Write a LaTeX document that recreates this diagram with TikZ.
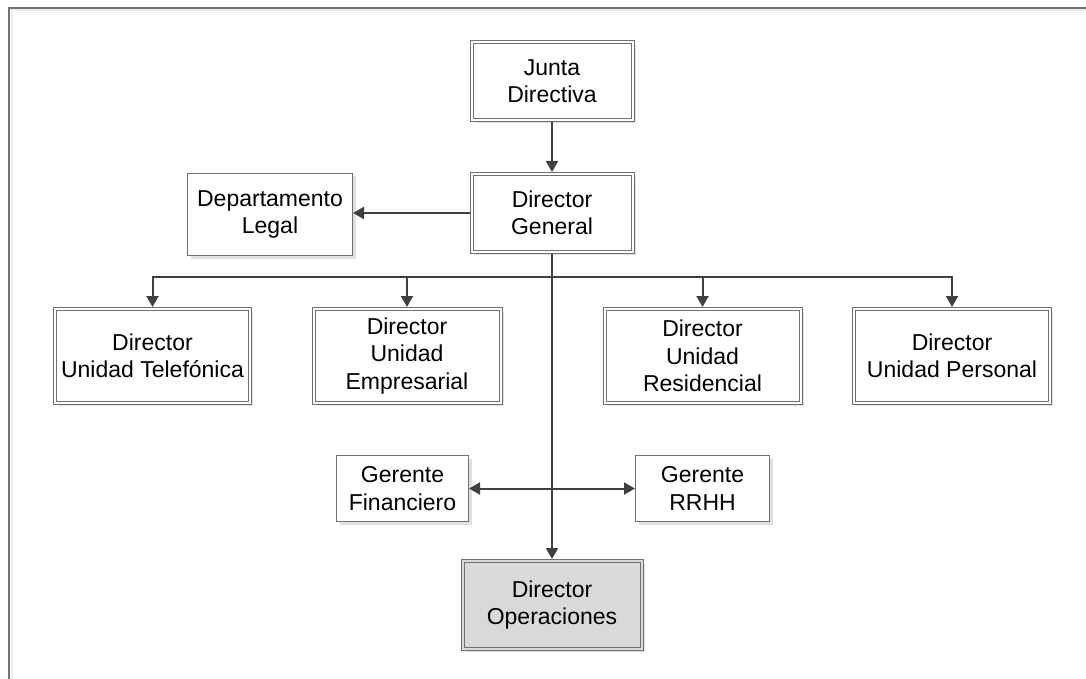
\documentclass[tikz,border=0pt]{standalone}
\usepackage{fontspec}
\setmainfont{Liberation Sans}
\usetikzlibrary{arrows.meta,shadows}

\definecolor{boxline}{HTML}{707070}
\definecolor{linkline}{HTML}{404040}
\definecolor{opsfill}{HTML}{D9D9D9}

\tikzset{
  orgbox/.style={rectangle, draw=boxline, fill=white, line width=1pt,
    align=center, inner sep=0pt, text=black,
    font=\fontsize{23}{27.5}\selectfont,
    drop shadow={shadow xshift=3pt, shadow yshift=-3pt, fill=black!12, opacity=1}},
  dblbox/.style={orgbox, double=white, double distance=2pt, outer sep=2pt},
  sglbox/.style={orgbox, outer sep=0.5pt},
  link/.style={draw=linkline, line width=2pt,
    -{Triangle[length=11pt,width=12pt]}},
  biglink/.style={link, {Triangle[length=11pt,width=12pt]}-{Triangle[length=11pt,width=12pt]}}
}

\begin{document}
\begin{tikzpicture}[x=1pt,y=-1pt]
  \useasboundingbox (0,0) rectangle (1086,679);

  % page frame
  \draw[black!8, line width=2pt] (11.5,679) -- (11.5,10.5) -- (1086,10.5);
  \draw[black!55, line width=1.6pt] (9,679) -- (9,8) -- (1086,8);

  % boxes
  \node[dblbox, minimum width=161pt, minimum height=78pt] (jd) at (552,81) {Junta\\Directiva};
  \node[dblbox, minimum width=161pt, minimum height=78pt] (dg) at (552,213) {Director\\General};
  \node[sglbox, minimum width=165pt, minimum height=82pt] (dl) at (270,214.5) {Departamento\\Legal};

  \node[dblbox, minimum width=195pt, minimum height=94pt] (ut) at (152.5,356) {Director\\Unidad Telefónica};
  \node[dblbox, minimum width=187pt, minimum height=94pt] (ue) at (407,356) {Director\\Unidad\\Empresarial};
  \node[dblbox, minimum width=196pt, minimum height=94pt] (ur) at (702.5,356) {Director\\Unidad\\Residencial};
  \node[dblbox, minimum width=196pt, minimum height=94pt] (up) at (952,356) {Director\\Unidad Personal};

  \node[sglbox, minimum width=132pt, minimum height=66pt] (gf) at (402.5,488.5) {Gerente\\Financiero};
  \node[sglbox, minimum width=134pt, minimum height=66pt] (gr) at (702.5,488.5) {Gerente\\RRHH};

  \node[dblbox, fill=opsfill, double=opsfill, minimum width=179pt, minimum height=88pt] (do) at (552,605) {Director\\Operaciones};

  % connectors
  \draw[link] (jd) -- (dg);
  \draw[link] (dg.west) -- (dg.west -| dl.east);
  \draw[link] (dg.south) -- ++(0,23) -| (ut.north);
  \draw[link] (dg.south) -- ++(0,23) -| (ue.north);
  \draw[link] (dg.south) -- ++(0,23) -| (ur.north);
  \draw[link] (dg.south) -- ++(0,23) -| (up.north);
  \draw[link] (dg.south) -- (do.north);
  \draw[biglink] (gf.east) -- (gr.west);
\end{tikzpicture}
\end{document}
